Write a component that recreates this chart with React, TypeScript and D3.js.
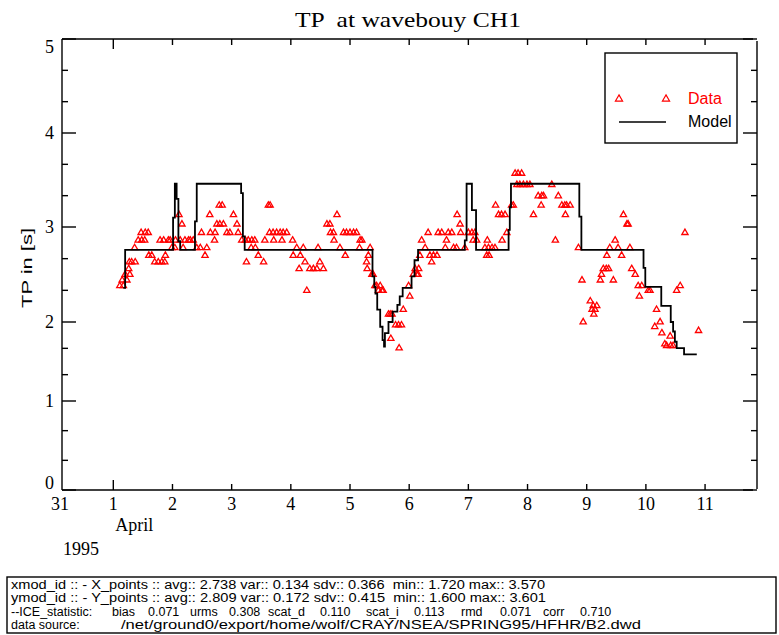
import React from "react";
import * as d3 from "d3";

// ---- chart content -------------------------------------------------------

const titleText = "TP  at wavebouy CH1";
const yAxisTitle = "TP in [s]";
const monthLabel = "April";
const yearLabel = "1995";
const startDayLabel = "31";

// time axis: fractional day of April 1995 (1.0 = 1 April 00:00)
const timeDomain: [number, number] = [0.133, 11.81];
const dayTicks = [1, 2, 3, 4, 5, 6, 7, 8, 9, 10, 11];
const monthStartDay = 1;

// peak period axis [s]
const yTicks = [0, 1, 2, 3, 4, 5];

// model peak period, piecewise constant (value holds until next entry)
const modelSteps: [number, number][] = [
  [1.17, 2.36], [1.2, 2.76], [2.01, 3.1], [2.04, 3.46], [2.07, 3.3], [2.1, 2.85],
  [2.13, 2.76], [2.38, 3.06], [2.41, 3.46], [3.16, 3.36], [3.19, 2.9], [3.22, 2.76],
  [5.38, 2.48], [5.41, 2.37], [5.43, 2.3], [5.46, 2.13], [5.51, 1.94], [5.55, 1.77],
  [5.575, 1.69], [5.59, 1.86], [5.65, 2.0], [5.72, 2.11], [5.8, 2.18], [5.84, 2.27],
  [5.89, 2.36], [6.04, 2.48], [6.09, 2.65], [6.15, 2.76], [6.94, 2.86], [6.97, 3.46],
  [7.06, 3.18], [7.13, 2.76], [7.68, 2.97], [7.7, 3.21], [7.72, 3.46], [8.875, 3.11],
  [8.91, 2.76], [9.96, 2.57], [9.99, 2.37], [10.26, 2.17], [10.42, 2.0], [10.46, 1.88],
  [10.49, 1.75], [10.52, 1.67], [10.645, 1.59], [10.86, 1.59],
];

// buoy observations [day, TP]
const buoyObs: [number, number][] = [
  [1.11, 2.38], [1.15, 2.44], [1.17, 2.38], [1.2, 2.5], [1.23, 2.44], [1.26, 2.56],
  [1.27, 2.63], [1.28, 2.5], [1.31, 2.63], [1.36, 2.78], [1.37, 2.63], [1.42, 2.86],
  [1.47, 2.94], [1.48, 2.86], [1.53, 2.86], [1.54, 2.94], [1.59, 2.94], [1.6, 2.7],
  [1.65, 2.7], [1.7, 2.63], [1.76, 2.63], [1.79, 2.86], [1.82, 2.63], [1.85, 2.86],
  [1.87, 2.63], [1.88, 2.7], [1.93, 2.86], [1.96, 2.86], [1.99, 2.78], [2.04, 2.78],
  [2.05, 2.86], [2.11, 3.13], [2.13, 2.86], [2.16, 3.03], [2.18, 2.78], [2.21, 2.86],
  [2.27, 2.86], [2.3, 2.86], [2.35, 2.86], [2.41, 2.78], [2.47, 2.78], [2.49, 2.94],
  [2.55, 2.7], [2.58, 2.78], [2.63, 3.13], [2.64, 2.94], [2.71, 2.86], [2.72, 2.94],
  [2.75, 3.03], [2.79, 3.23], [2.8, 3.03], [2.84, 3.23], [2.86, 3.03], [2.92, 2.94],
  [2.97, 2.94], [3.03, 3.13], [3.09, 3.03], [3.11, 2.94], [3.17, 2.86], [3.23, 2.86],
  [3.25, 2.63], [3.28, 2.86], [3.33, 2.78], [3.34, 2.86], [3.39, 2.86], [3.4, 2.78],
  [3.45, 2.7], [3.54, 2.63], [3.56, 2.86], [3.62, 3.23], [3.64, 2.94], [3.65, 3.23],
  [3.7, 2.94], [3.71, 2.86], [3.76, 2.94], [3.82, 2.94], [3.85, 2.86], [3.87, 2.94],
  [3.93, 2.94], [4.03, 2.86], [4.04, 2.7], [4.1, 2.78], [4.14, 2.56], [4.16, 2.7],
  [4.21, 2.78], [4.24, 2.63], [4.27, 2.33], [4.32, 2.56], [4.38, 2.56], [4.44, 2.56],
  [4.46, 2.78], [4.49, 2.63], [4.55, 2.56], [4.61, 3.03], [4.66, 3.03], [4.67, 2.94],
  [4.72, 2.94], [4.73, 2.86], [4.78, 3.13], [4.83, 2.78], [4.89, 2.94], [4.92, 2.7],
  [4.94, 2.94], [5.0, 2.94], [5.06, 2.94], [5.11, 2.94], [5.16, 2.78], [5.17, 2.86],
  [5.2, 2.86], [5.28, 2.63], [5.29, 2.56], [5.31, 2.7], [5.34, 2.78], [5.37, 2.5],
  [5.39, 2.5], [5.42, 2.38], [5.45, 2.38], [5.48, 2.33], [5.51, 2.38], [5.54, 2.33],
  [5.56, 2.33], [5.65, 2.08], [5.68, 2.08], [5.69, 1.79], [5.71, 2.08], [5.77, 1.96],
  [5.82, 1.96], [5.83, 1.67], [5.87, 1.96], [5.9, 2.13], [5.99, 2.38], [6.01, 2.27],
  [6.07, 2.5], [6.1, 2.56], [6.13, 2.5], [6.15, 2.5], [6.16, 2.56], [6.18, 2.7],
  [6.21, 2.86], [6.27, 2.78], [6.32, 2.94], [6.35, 2.7], [6.38, 2.63], [6.41, 2.7],
  [6.47, 2.7], [6.49, 2.94], [6.55, 2.94], [6.61, 2.78], [6.63, 2.86], [6.66, 2.94],
  [6.72, 2.94], [6.75, 2.78], [6.8, 2.78], [6.81, 3.13], [6.86, 3.03], [6.87, 2.94],
  [6.94, 2.78], [7.0, 2.94], [7.06, 2.94], [7.08, 2.86], [7.11, 2.94], [7.14, 2.86],
  [7.28, 2.78], [7.31, 2.7], [7.32, 2.86], [7.34, 2.78], [7.35, 2.7], [7.4, 2.78],
  [7.45, 2.78], [7.46, 3.23], [7.51, 3.13], [7.56, 3.13], [7.57, 2.86], [7.62, 3.13],
  [7.65, 2.94], [7.73, 3.23], [7.76, 3.23], [7.79, 3.57], [7.82, 3.45], [7.84, 3.57],
  [7.87, 3.45], [7.9, 3.57], [7.93, 3.45], [7.99, 3.45], [8.04, 3.45], [8.1, 3.13],
  [8.18, 3.33], [8.23, 3.23], [8.24, 3.33], [8.27, 3.33], [8.41, 3.45], [8.47, 2.86],
  [8.52, 3.33], [8.58, 3.23], [8.63, 3.23], [8.64, 3.13], [8.66, 3.23], [8.72, 3.23],
  [8.86, 2.78], [8.92, 2.44], [8.94, 2.0], [9.06, 2.22], [9.09, 2.13], [9.11, 2.17],
  [9.12, 2.08], [9.14, 2.13], [9.17, 2.17], [9.23, 2.44], [9.25, 2.5], [9.28, 2.56],
  [9.33, 2.56], [9.34, 2.7], [9.37, 2.56], [9.39, 2.78], [9.45, 2.44], [9.48, 2.86],
  [9.53, 2.78], [9.59, 2.7], [9.62, 3.13], [9.68, 3.03], [9.7, 3.03], [9.73, 2.78],
  [9.76, 2.56], [9.82, 2.5], [9.87, 2.38], [9.89, 2.27], [9.93, 2.38], [10.04, 2.33],
  [10.07, 2.33], [10.15, 1.94], [10.18, 2.13], [10.24, 2.0], [10.27, 1.86], [10.32, 1.72],
  [10.35, 1.7], [10.41, 1.82], [10.42, 1.7], [10.46, 1.7], [10.52, 2.33], [10.58, 2.38],
  [10.66, 2.94], [10.89, 1.89],
];

const legendItems = ["Data", "Model"];

// summary block under the plot: tokens with their start column (and run width where fixed)
const statRows: { text: string; at: number; w?: number }[][] = [
  [
    { text: "xmod_id :: - X_points :: avg:: 2.738 var:: 0.134 sdv:: 0.366  min:: 1.720 max:: 3.570", at: 11, w: 534 },
  ],
  [
    { text: "ymod_id :: - Y_points :: avg:: 2.809 var:: 0.172 sdv:: 0.415  min:: 1.600 max:: 3.601", at: 11, w: 535 },
  ],
  [
    { text: "--ICE_statistic:", at: 11 },
    { text: "bias", at: 112 },
    { text: "0.071", at: 148 },
    { text: "urms", at: 190 },
    { text: "0.308", at: 229 },
    { text: "scat_d", at: 268 },
    { text: "0.110", at: 320 },
    { text: "scat_i", at: 366 },
    { text: "0.113", at: 414 },
    { text: "rmd", at: 461 },
    { text: "0.071", at: 500 },
    { text: "corr", at: 543 },
    { text: "0.710", at: 580 },
  ],
  [
    { text: "data source:", at: 11 },
    { text: "/net/ground0/export/home/wolf/CRAY/NSEA/SPRING95/HFHR/B2.dwd", at: 121, w: 520 },
  ],
];

// ---- drawing -------------------------------------------------------------

const W = 779;
const H = 635;
const RED = "#ff0000";
const SERIF = "'Liberation Serif', 'DejaVu Serif', serif";
const SANS = "'Liberation Sans', 'DejaVu Sans', sans-serif";

export default function App() {
  const plot = { left: 62, right: 753, top: 39, bottom: 490, rightAxis: 757 };

  const x = d3.scaleLinear().domain(timeDomain).range([plot.left, plot.right]);
  // the vertical axis of this plotter is calibrated per whole second
  const y = d3
    .scaleLinear()
    .domain(yTicks)
    .range([plot.bottom, 401, 322, 227, 133, plot.top]);

  const minorY: number[] = [];
  for (let i = 0; i < yTicks.length - 1; i++) {
    minorY.push(yTicks[i] + 1 / 3, yTicks[i] + 2 / 3);
  }

  const modelPath =
    d3
      .line<[number, number]>()
      .x((d) => x(d[0]))
      .y((d) => y(d[1]))
      .curve(d3.curveStepAfter)(modelSteps) ?? "";

  const tri = d3.symbol().type(d3.symbolTriangle).size(17)() ?? "";
  const legendTri = d3.symbol().type(d3.symbolTriangle).size(22)() ?? "";

  const axisStroke = { stroke: "#000", strokeWidth: 1.4 };

  return (
    <svg
      width={W}
      height={H}
      viewBox={`0 0 ${W} ${H}`}
      style={{ position: "absolute", left: 0, top: 0, background: "#fff" }}
    >
      <rect x={0} y={0} width={W} height={H} fill="#fff" />

      {/* title */}
      <text
        x={408}
        y={27}
        textAnchor="middle"
        fontFamily={SERIF}
        fontSize={21}
        textLength={226}
        lengthAdjust="spacingAndGlyphs"
        style={{ whiteSpace: "pre" }}
      >
        {titleText}
      </text>

      {/* frame */}
      <line x1={plot.left} x2={plot.right} y1={plot.top} y2={plot.top} {...axisStroke} />
      <line x1={plot.left} x2={plot.right} y1={plot.bottom} y2={plot.bottom} {...axisStroke} />
      <line x1={plot.left} x2={plot.left} y1={plot.top} y2={plot.bottom} {...axisStroke} />
      <line
        x1={plot.rightAxis}
        x2={plot.rightAxis}
        y1={plot.top + 2}
        y2={plot.bottom - 1}
        {...axisStroke}
      />

      {/* time ticks, top and bottom */}
      {dayTicks.map((d) => {
        const len = d === monthStartDay ? 10 : 6;
        return (
          <g key={`xt${d}`}>
            <line x1={x(d)} x2={x(d)} y1={plot.bottom} y2={plot.bottom - len} {...axisStroke} />
            <line x1={x(d)} x2={x(d)} y1={plot.top} y2={plot.top + len} {...axisStroke} />
            <text
              x={x(d)}
              y={510}
              textAnchor="middle"
              fontFamily={SERIF}
              fontSize={18}
            >
              {String(d)}
            </text>
          </g>
        );
      })}
      <text x={x(timeDomain[0]) - 2} y={510} textAnchor="middle" fontFamily={SERIF} fontSize={18}>
        {startDayLabel}
      </text>
      <text x={x(monthStartDay) + 2} y={531} fontFamily={SERIF} fontSize={18}>
        {monthLabel}
      </text>
      <text x={63} y={555} fontFamily={SERIF} fontSize={18}>
        {yearLabel}
      </text>

      {/* value ticks, left and right */}
      {yTicks.map((v) => (
        <g key={`yt${v}`}>
          <line x1={plot.left} x2={plot.left + 14} y1={y(v)} y2={y(v)} {...axisStroke} />
          <line
            x1={plot.rightAxis}
            x2={plot.rightAxis - 14}
            y1={y(v)}
            y2={y(v)}
            {...axisStroke}
          />
          <text
            x={54}
            y={y(v) + (v === yTicks[0] ? -1 : v === yTicks[yTicks.length - 1] ? 14 : 6)}
            textAnchor="end"
            fontFamily={SERIF}
            fontSize={18}
          >
            {String(v)}
          </text>
        </g>
      ))}
      {minorY.map((v, i) => (
        <g key={`ym${i}`}>
          <line x1={plot.left} x2={plot.left + 6} y1={y(v)} y2={y(v)} {...axisStroke} />
          <line
            x1={plot.rightAxis}
            x2={plot.rightAxis - 6}
            y1={y(v)}
            y2={y(v)}
            {...axisStroke}
          />
        </g>
      ))}

      <text
        transform={`translate(32,268) rotate(-90)`}
        textAnchor="middle"
        fontFamily={SANS}
        fontSize={15}
        textLength={80}
        lengthAdjust="spacingAndGlyphs"
      >
        {yAxisTitle}
      </text>

      {/* observations */}
      <g fill="none" stroke={RED} strokeWidth={1.3}>
        {buoyObs.map((d, i) => (
          <path key={`o${i}`} d={tri} transform={`translate(${x(d[0])},${y(d[1])})`} />
        ))}
      </g>

      {/* model */}
      <path d={modelPath} fill="none" stroke="#000" strokeWidth={1.8} />

      {/* legend */}
      <rect x={605} y={53} width={132} height={90} fill="#fff" stroke="#000" strokeWidth={1.4} />
      <g fill="none" stroke={RED} strokeWidth={1.2}>
        <path d={legendTri} transform="translate(619,99)" />
        <path d={legendTri} transform="translate(666,99)" />
      </g>
      <text x={688} y={104} fontFamily={SANS} fontSize={16} fill={RED}>
        {legendItems[0]}
      </text>
      <line x1={619} x2={666} y1={122} y2={122} stroke="#000" strokeWidth={1.4} />
      <text x={688} y={127} fontFamily={SANS} fontSize={16} fill="#000">
        {legendItems[1]}
      </text>

      {/* statistics box */}
      <rect x={7} y={577} width={769} height={56} fill="#fff" stroke="#000" strokeWidth={1.4} />
      {statRows.map((row, i) =>
        row.map((tok, j) => (
          <text
            key={`s${i}-${j}`}
            x={tok.at}
            y={589 + i * 13.3}
            fontFamily={SANS}
            fontSize={12.5}
            textLength={tok.w}
            lengthAdjust={tok.w ? "spacingAndGlyphs" : undefined}
            style={{ whiteSpace: "pre" }}
          >
            {tok.text}
          </text>
        ))
      )}
    </svg>
  );
}
